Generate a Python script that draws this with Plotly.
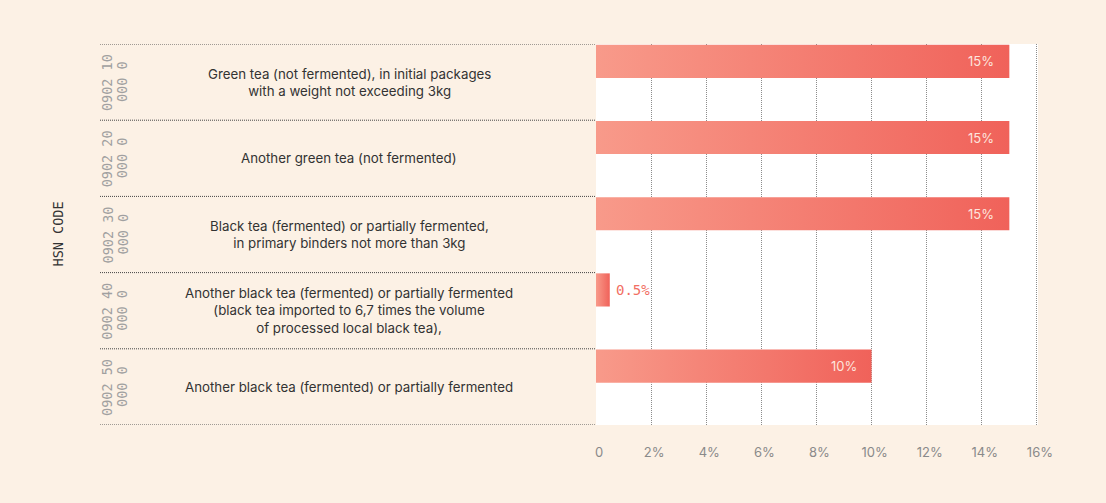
import plotly.graph_objects as go

# HSN tariff lines for tea and their import duty rates (%)
hsn_codes = ["0902 10 000 0", "0902 20 000 0", "0902 30 000 0", "0902 40 000 0", "0902 50 000 0"]
descriptions = [
    "Green tea (not fermented), in initial packages<br>with a weight not exceeding 3kg",
    "Another green tea (not fermented)",
    "Black tea (fermented) or partially fermented,<br>in primary binders not more than 3kg",
    "Another black tea (fermented) or partially fermented<br>(black tea imported to 6,7 times the volume<br>of processed local black tea),",
    "Another black tea (fermented) or partially fermented",
]
rates = [15, 15, 15, 0.5, 10]
rate_labels = ["15%", "15%", "15%", "0.5%", "10%"]
x_ticks = [0, 2, 4, 6, 8, 10, 12, 14, 16]
x_tick_labels = ["0", "2%", "4%", "6%", "8%", "10%", "12%", "14%", "16%"]

CREAM = "#FCF1E5"
BAR_LIGHT = "#F89A8A"
BAR_DARK = "#F0625A"
SANS = "Inter, Roboto, sans-serif"
MONO = "DejaVu Sans Mono, Liberation Mono, monospace"

W, H = 1106, 503
margin = dict(l=596, r=68, t=44, b=78)
plot_w = W - margin["l"] - margin["r"]


def px_to_paper(px):
    return (px - margin["l"]) / plot_w


BAR_THICK = 0.435  # fraction of a row, bar sits at the top of its row

fig = go.Figure()

# Each bar is a filled rectangle on the data axes so it can carry a horizontal gradient
for i, (v, lab) in enumerate(zip(rates, rate_labels)):
    y_top = i - 0.49
    y_bot = y_top + BAR_THICK
    fig.add_trace(go.Scatter(
        x=[0, v, v, 0, 0],
        y=[y_top, y_top, y_bot, y_bot, y_top],
        mode="lines",
        fill="toself",
        line=dict(width=0, color=BAR_DARK),
        fillgradient=dict(type="horizontal", colorscale=[[0, BAR_LIGHT], [1, BAR_DARK]]),
        hoveron="fills",
        name=hsn_codes[i],
        text=f"{hsn_codes[i]}: {lab}",
        hoverinfo="text",
        showlegend=False,
    ))
    y_mid = (y_top + y_bot) / 2
    if v >= 2:
        fig.add_annotation(x=v, y=y_mid, xref="x", yref="y", text=lab, showarrow=False,
                           xanchor="right", xshift=-13,
                           font=dict(family=SANS, size=13, color="#FDE4DD"))
    else:
        fig.add_annotation(x=v, y=y_mid, xref="x", yref="y", text=lab, showarrow=False,
                           xanchor="left", xshift=4,
                           font=dict(family=MONO, size=14, color="#F26F64"))

# Row labels: rotated HSN code (two short lines) and the goods description
for i, (code, desc) in enumerate(zip(hsn_codes, descriptions)):
    parts = code.split(" ")
    code_lines = [" ".join(parts[:2]), " ".join(parts[2:])]
    for j, line in enumerate(code_lines):
        fig.add_annotation(x=px_to_paper(107 + 15 * j), y=i, xref="paper", yref="y",
                           text=line, showarrow=False, textangle=-90,
                           xanchor="center", yanchor="middle",
                           font=dict(family=MONO, size=13.5, color="#A0A0A0"))
    fig.add_annotation(x=px_to_paper(349), y=i, xref="paper", yref="y", text=desc,
                       showarrow=False, align="center", xanchor="center",
                       font=dict(family=SANS, size=13.3, color="#333333"))

# Dotted row separators across the label column
for k in range(len(hsn_codes) + 1):
    fig.add_shape(type="line", xref="paper", yref="y",
                  x0=px_to_paper(100), x1=0, y0=k - 0.5, y1=k - 0.5,
                  line=dict(color="#444444", width=1, dash="1px,1px"))

fig.add_annotation(x=px_to_paper(57), y=0.5, xref="paper", yref="paper", text="HSN CODE",
                   showarrow=False, textangle=-90, xanchor="center", yanchor="middle",
                   font=dict(family=MONO, size=13.5, color="#333333"))

fig.update_xaxes(range=[0, 16.04], tickvals=x_ticks, ticktext=x_tick_labels,
                 showgrid=True, gridcolor="#8C8C8C", griddash="1px,1px", gridwidth=1,
                 zeroline=False, showline=False, ticks="",
                 ticklabelshift=3, ticklabelstandoff=18,
                 tickfont=dict(family=SANS, size=13, color="#8A8A8A"), fixedrange=True)
fig.update_yaxes(range=[len(hsn_codes) - 0.5, -0.5], showticklabels=False, showgrid=False,
                 zeroline=False, showline=False, ticks="", fixedrange=True)

fig.update_layout(width=W, height=H, margin=margin, paper_bgcolor=CREAM,
                  plot_bgcolor="white", showlegend=False)

fig.write_html("out.html")
